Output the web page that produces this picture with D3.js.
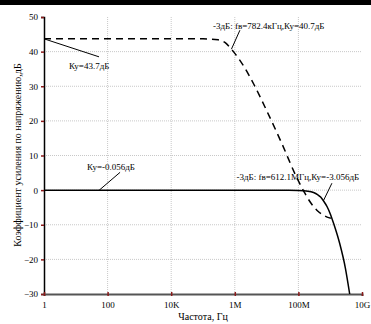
<!DOCTYPE html>
<html><head><meta charset="utf-8">
<script src="https://cdn.jsdelivr.net/npm/d3@7"></script>
<style>body{margin:0;background:#fff}svg{display:block}</style>
</head><body><svg id="c" width="371" height="324"></svg>
<script>
// ---- data ----
const xTickValues = [1, 1e2, 1e4, 1e6, 1e8, 1e10];
const xTickLabels = ["1", "100", "10K", "1M", "100M", "10G"];
const yTickValues = [-30, -20, -10, 0, 10, 20, 30, 40, 50];
// dashed curve (open-loop gain)
const dashedFreq = [1, 1e5, 3e5, 5e5, 7.824e5, 1e6, 2e6, 4e6, 1e7, 3e7, 9e7, 1.6e8, 2.5e8, 3.8e8, 6e8, 8e8, 1.05e9];
const dashedDb   = [43.7, 43.7, 43.4, 42.6, 40.7, 39.5, 35.5, 30.5, 23, 13.5, 3.5, -0.9, -3.8, -5.8, -7.2, -7.8, -8.1];
// solid curve (closed-loop gain)
const solidFreq = [1, 5e7, 1e8, 2e8, 3e8, 4e8, 5e8, 6.121e8, 8e8, 1e9, 1.3e9, 2e9, 3e9, 4.1e9];
const solidDb   = [-0.056, -0.06, -0.1, -0.3, -0.7, -1.3, -2.0, -3.056, -4.8, -6.8, -9.8, -15.5, -22.5, -30];
// annotations
const annTexts = ["Ку=43.7дБ", "-3дБ: fв=782.4кГц,Ку=40.7дБ", "Ку=-0.056дБ", "-3дБ: fв=612.1МГц,Ку=-3.056дБ"];
const annFreq  = [1, 7.824e5, 54, 6.121e8];
const annDb    = [43.7, 40.7, -0.056, -3.056];
const xTitle = "Частота, Гц";
const yTitle = "Коэффициент усиления по напряжению,дБ";

// ---- drawing ----
const svg = d3.select("#c");
const font = "'Liberation Serif', 'Times New Roman', serif";
svg.append("rect").attr("x",0).attr("y",0).attr("width",371).attr("height",5).attr("fill","#000");

const x = d3.scaleLog().domain([1, 1e10]).range([44, 362]);
const y = d3.scaleLinear().domain([-30, 50]).range([294, 17]);

// grid
svg.append("g").selectAll("line").data(xTickValues.slice(1, -1)).join("line")
  .attr("x1", d => x(d)).attr("x2", d => x(d)).attr("y1", y(50)).attr("y2", y(-30))
  .attr("stroke", "#c8c8c8").attr("stroke-width", 1).attr("stroke-dasharray", "1,1");
svg.append("g").selectAll("line").data(yTickValues.filter(v => v !== -30 && v !== 50)).join("line")
  .attr("x1", x(1)).attr("x2", x(1e10)).attr("y1", d => y(d)).attr("y2", d => y(d))
  .attr("stroke", "#c8c8c8").attr("stroke-width", 1).attr("stroke-dasharray", "1,1");

// axes
const yAxis = d3.axisLeft(y).tickValues(yTickValues).tickSize(3).tickPadding(3);
const gy = svg.append("g").attr("transform", `translate(${x(1)},0)`).call(yAxis);
gy.select(".domain").attr("stroke", "#000").attr("stroke-width", 1.5);
gy.selectAll(".tick line").attr("stroke", "#8b1a1a").attr("stroke-width", 1.5);
gy.selectAll(".tick text").attr("font-family", font).attr("font-size", 9).attr("fill", "#000");

const xAxis = d3.axisBottom(x).tickValues(xTickValues).tickFormat((d, i) => xTickLabels[i]).tickSize(2).tickPadding(6);
const gx = svg.append("g").attr("transform", `translate(0,${y(-30)})`).call(xAxis);
gx.select(".domain").attr("stroke", "#555").attr("stroke-width", 2);
gx.selectAll(".tick line").attr("stroke", "#8b1a1a").attr("stroke-width", 1.5).attr("y1", -2).attr("y2", 2);
gx.selectAll(".tick text").attr("font-family", font).attr("font-size", 9).attr("fill", "#000");

// curves
const line = d3.line().x(d => x(d[0])).y(d => y(d[1])).curve(d3.curveMonotoneX);
svg.append("path").datum(solidFreq.map((f, i) => [f, solidDb[i]]))
  .attr("d", line).attr("fill", "none").attr("stroke", "#000").attr("stroke-width", 1.5);
svg.append("path").datum(dashedFreq.map((f, i) => [f, dashedDb[i]]))
  .attr("d", line).attr("fill", "none").attr("stroke", "#000").attr("stroke-width", 1.5)
  .attr("stroke-dasharray", "7,5");

// annotations: leader end offset and text position relative to anchor (px)
const annLayout = [
  {lx: 55, ly: 18, tx: 25, ty: 30},
  {lx: 8.5, ly: -19, tx: -18.5, ty: -20},
  {lx: 21, ly: -18, tx: -12, ty: -20},
  {lx: 8.5, ly: -17.5, tx: -87, ty: -20.5}
];
annTexts.forEach((t, i) => {
  const px = x(annFreq[i]), py = y(annDb[i]), L = annLayout[i];
  svg.append("line").attr("x1", px).attr("y1", py).attr("x2", px + L.lx).attr("y2", py + L.ly)
    .attr("stroke", "#000").attr("stroke-width", 1);
  svg.append("text").attr("x", px + L.tx).attr("y", py + L.ty).text(t)
    .attr("font-family", font).attr("font-size", 9).attr("fill", "#000");
});

// titles
svg.append("text").attr("x", 203).attr("y", 320).attr("text-anchor", "middle")
  .attr("font-family", font).attr("font-size", 10).text(xTitle);
svg.append("text").attr("transform", "translate(21,155) rotate(-90)").attr("text-anchor", "middle")
  .attr("font-family", font).attr("font-size", 10).text(yTitle);
</script></body></html>
